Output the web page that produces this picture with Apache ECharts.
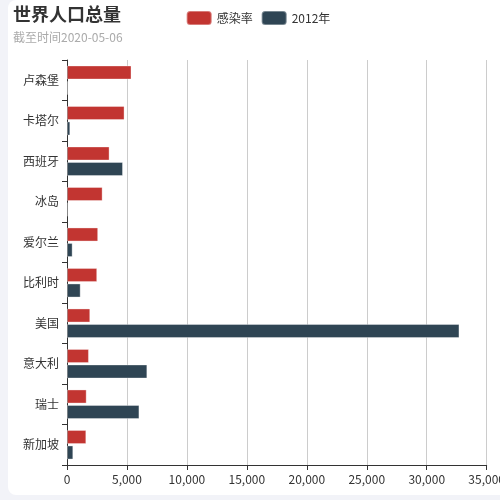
<!DOCTYPE html>
<html>
<head>
<meta charset="utf-8">
<script src="https://cdn.jsdelivr.net/npm/echarts@6/dist/echarts.min.js"></script>
<style>
html,body{margin:0;padding:0;width:500px;height:500px;overflow:hidden;background:#f2f3f8;}
#card{position:absolute;left:8px;top:0;width:500px;height:495px;background:#fff;border-radius:8px;}
#chart{width:500px;height:495px;}
</style>
</head>
<body>
<div id="card"><div id="chart"></div></div>
<script>
var categories = ['卢森堡','卡塔尔','西班牙','冰岛','爱尔兰','比利时','美国','意大利','瑞士','新加坡'];
var infectionRate = [5380, 4800, 3550, 2970, 2600, 2520, 1940, 1830, 1640, 1610];
var pop2012 = [60, 275, 4670, 36, 470, 1140, 32730, 6700, 6040, 525];
var seriesNames = ['感染率','2012年'];
var xTicks = {min: 0, max: 35000, interval: 5000};

var chart = echarts.init(document.getElementById('chart'));
chart.setOption({
  animation: false,
  textStyle: {fontFamily: '"Noto Sans CJK SC", "Noto Sans", sans-serif'},
  color: ['#c23531', '#2f4554'],
  title: {
    text: '世界人口总量',
    subtext: '截至时间2020-05-06',
    left: 0, top: 0,
    itemGap: 8,
    textStyle: {fontSize: 18, fontWeight: 'bold', color: '#333'},
    subtextStyle: {fontSize: 12, color: '#aaa'}
  },
  legend: {
    data: seriesNames,
    top: 5,
    itemWidth: 25, itemHeight: 14,
    textStyle: {fontSize: 12, color: '#333'}
  },
  grid: {left: 59, right: 20, top: 60, bottom: 30},
  xAxis: {
    type: 'value',
    min: xTicks.min, max: xTicks.max, interval: xTicks.interval,
    axisLine: {show: true, lineStyle: {color: '#333'}},
    axisTick: {show: true, lineStyle: {color: '#333'}},
    axisLabel: {color: '#333', fontSize: 12, showMaxLabel: true},
    splitLine: {show: true, lineStyle: {color: '#ccc'}}
  },
  yAxis: {
    type: 'category',
    inverse: true,
    data: categories,
    axisLine: {show: true, lineStyle: {color: '#333'}},
    axisTick: {show: true, lineStyle: {color: '#333'}},
    axisLabel: {color: '#333', fontSize: 12},
    splitLine: {show: false}
  },
  series: [
    {name: seriesNames[0], type: 'bar', data: infectionRate,
     itemStyle: {borderColor: 'rgba(255,255,255,0.35)', borderWidth: 1}},
    {name: seriesNames[1], type: 'bar', data: pop2012,
     itemStyle: {borderColor: 'rgba(255,255,255,0.35)', borderWidth: 1}}
  ]
});
</script>
</body>
</html>
